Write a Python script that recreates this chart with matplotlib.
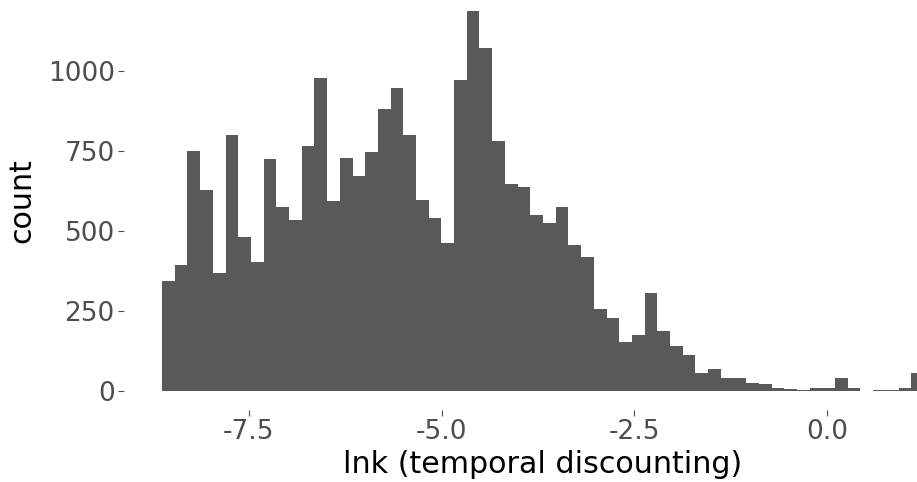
import numpy as np
import matplotlib
matplotlib.use("Agg")
import matplotlib.pyplot as plt

plt.rcParams['font.family'] = ['DejaVu Sans']
plt.rcParams['axes.unicode_minus'] = False

# histogram data (60 bins)
bin_min = -8.626
bin_max = 1.255
counts = [341, 392, 750, 627, 368, 797, 480, 403, 724, 574,
          533, 765, 977, 591, 728, 671, 746, 881, 945, 797,
          596, 540, 460, 971, 1186, 1071, 779, 646, 637, 548,
          523, 573, 454, 418, 255, 227, 151, 172, 305, 186,
          140, 110, 56, 67, 38, 38, 24, 20, 9, 5,
          2, 9, 9, 38, 9, 0, 2, 2, 9, 56]
x_ticks = [-7.5, -5.0, -2.5, 0.0]
x_tick_labels = ["-7.5", "-5.0", "-2.5", "0.0"]
y_ticks = [0, 250, 500, 750, 1000]
y_tick_labels = ["0", "250", "500", "750", "1000"]
x_title = "lnk (temporal discounting)"
y_title = "count"

edges = np.linspace(bin_min, bin_max, len(counts) + 1)

W, H = 917, 482
fig = plt.figure(figsize=(W / 100, H / 100), dpi=100)
# panel in pixel coords: left 123.9, right 962.1, bottom 409.5, top -8
pl, pr, pb, pt = 123.9, 962.1, 409.5, -8.0
ax = fig.add_axes([pl / W, (H - pb) / H, (pr - pl) / W, (pb - pt) / H])
ax.stairs(counts, edges, fill=True, color="#595959", linewidth=0)

xr = edges[-1] - edges[0]
ax.set_xlim(edges[0] - 0.05 * xr, edges[-1] + 0.05 * xr)
ymax = max(counts)
ax.set_ylim(-0.05 * ymax, ymax * 1.05)

ax.set_xticks(x_ticks)
ax.set_xticklabels(x_tick_labels)
ax.set_yticks(y_ticks)
ax.set_yticklabels(y_tick_labels)
for s in ax.spines.values():
    s.set_visible(False)
ax.tick_params(axis='both', labelsize=19, labelcolor="#4D4D4D", color="#4D4D4D",
               length=4.3, width=0.8)
ax.tick_params(axis='x', pad=2.4)
ax.tick_params(axis='y', pad=2.2)
ax.set_xlabel(x_title, fontsize=21.7, color="black", labelpad=3.5)
ax.set_ylabel(y_title, fontsize=21.7, color="black", labelpad=8)
ax.grid(False)

fig.savefig("out.png", dpi=100)
